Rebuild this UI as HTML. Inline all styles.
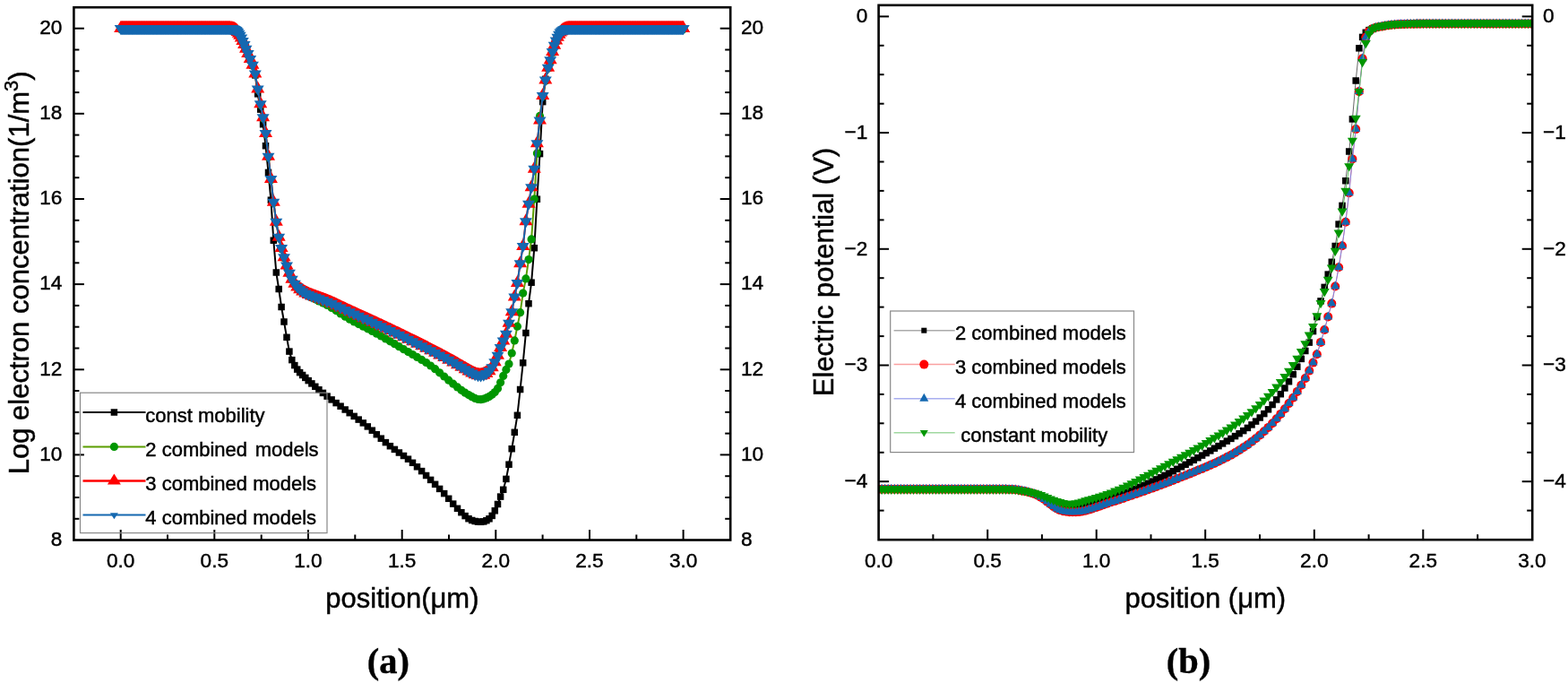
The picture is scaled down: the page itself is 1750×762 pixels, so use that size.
<!DOCTYPE html>
<html><head><meta charset="utf-8"><title>Figure</title>
<style>html,body{margin:0;padding:0;background:#fff;} svg{display:block;}</style>
</head><body>
<svg width="1750" height="762" viewBox="0 0 1750 762">
<defs>
<marker id="lsq" markerUnits="userSpaceOnUse" markerWidth="10" markerHeight="10" refX="5" refY="5" overflow="visible"><rect x="1.25" y="1.25" width="7.5" height="7.5" fill="#000"/></marker>
<marker id="lci" markerUnits="userSpaceOnUse" markerWidth="10" markerHeight="10" refX="5" refY="5" overflow="visible"><circle cx="5" cy="5" r="4.6" fill="#009600"/></marker>
<marker id="ltu" markerUnits="userSpaceOnUse" markerWidth="16" markerHeight="14" refX="7.5" refY="8.67" overflow="visible"><path d="M7.5 0 L15 13 L0 13 Z" fill="#ff0000"/></marker>
<marker id="ltd" markerUnits="userSpaceOnUse" markerWidth="14" markerHeight="11" refX="7" refY="3.67" overflow="visible"><path d="M0 0 L14 0 L7 11 Z" fill="#1468b0"/></marker>
<marker id="rsq" markerUnits="userSpaceOnUse" markerWidth="8" markerHeight="8" refX="4" refY="4" overflow="visible"><rect x="0.25" y="0.25" width="7.5" height="7.5" fill="#000"/></marker>
<marker id="rci" markerUnits="userSpaceOnUse" markerWidth="12" markerHeight="12" refX="5" refY="5" overflow="visible"><circle cx="5" cy="5" r="5" fill="#ff0000"/></marker>
<marker id="rtu" markerUnits="userSpaceOnUse" markerWidth="12" markerHeight="10" refX="5" refY="6" overflow="visible"><path d="M5 0 L10 9 L0 9 Z" fill="#1468b0"/></marker>
<marker id="rtd" markerUnits="userSpaceOnUse" markerWidth="11" markerHeight="10" refX="5.5" refY="3.1" overflow="visible"><path d="M0 0 L11 0 L5.5 9.3 Z" fill="#009600"/></marker>
<marker id="lgtd" markerUnits="userSpaceOnUse" markerWidth="10" markerHeight="8" refX="4.5" refY="2.3" overflow="visible"><path d="M0 0 L9 0 L4.5 7 Z" fill="#1468b0"/></marker>
<marker id="lgtu" markerUnits="userSpaceOnUse" markerWidth="16" markerHeight="14" refX="7.5" refY="8" overflow="visible"><path d="M7.5 0 L15 12 L0 12 Z" fill="#ff0000"/></marker>
<marker id="lgrsq" markerUnits="userSpaceOnUse" markerWidth="8" markerHeight="8" refX="3" refY="3" overflow="visible"><rect x="0" y="0" width="6" height="6" fill="#000"/></marker>
<marker id="lgrtd" markerUnits="userSpaceOnUse" markerWidth="10" markerHeight="8" refX="4.5" refY="2.6" overflow="visible"><path d="M0 0 L9 0 L4.5 7.5 Z" fill="#009600"/></marker>
<clipPath id="rclip"><rect x="981.5" y="6" width="728" height="595"/></clipPath>
</defs>
<rect width="1750" height="762" fill="#fff"/>

<polyline points="134.7,31.7 135.3,31.7 136.0,31.7 136.6,31.7 137.2,31.7 137.8,31.7 138.5,31.7 139.1,31.7 139.7,31.7 140.4,31.7 141.0,31.7 141.6,31.7 142.2,31.7 142.9,31.7 143.5,31.7 144.1,31.7 144.7,31.7 145.4,31.7 146.0,31.7 146.6,31.7 147.3,31.7 147.9,31.7 148.5,31.7 149.1,31.7 149.8,31.7 150.4,31.7 151.0,31.7 151.7,31.7 152.3,31.7 152.9,31.7 153.5,31.7 154.2,31.7 154.8,31.7 155.4,31.7 156.0,31.7 156.7,31.7 157.3,31.7 157.9,31.7 158.6,31.7 159.2,31.7 159.8,31.7 160.4,31.7 161.1,31.7 161.7,31.7 162.3,31.7 163.0,31.7 163.6,31.7 164.2,31.7 164.8,31.7 165.5,31.7 166.1,31.7 166.7,31.7 167.4,31.7 168.0,31.7 168.6,31.7 169.2,31.7 169.9,31.7 170.5,31.7 171.1,31.7 171.7,31.7 172.4,31.7 173.0,31.7 173.6,31.7 174.3,31.7 174.9,31.7 175.5,31.7 176.1,31.7 176.8,31.7 177.4,31.7 178.0,31.7 178.7,31.7 179.3,31.7 179.9,31.7 180.5,31.7 181.2,31.7 181.8,31.7 182.4,31.7 183.0,31.7 183.7,31.7 184.3,31.7 184.9,31.7 185.6,31.7 186.2,31.7 186.8,31.7 187.4,31.7 188.1,31.7 188.7,31.7 189.3,31.7 190.0,31.7 190.6,31.7 191.2,31.7 191.8,31.7 192.5,31.7 193.1,31.7 193.7,31.7 194.4,31.7 195.0,31.7 195.6,31.7 196.2,31.7 196.9,31.7 197.5,31.7 198.1,31.7 198.7,31.7 199.4,31.7 200.0,31.7 200.6,31.7 201.3,31.7 201.9,31.7 202.5,31.7 203.1,31.7 203.8,31.7 204.4,31.7 205.0,31.7 205.7,31.7 206.3,31.7 206.9,31.7 207.5,31.7 208.2,31.7 208.8,31.7 209.4,31.7 210.0,31.7 210.7,31.7 211.3,31.7 211.9,31.7 212.6,31.7 213.2,31.7 213.8,31.7 214.4,31.7 215.1,31.7 215.7,31.7 216.3,31.7 217.0,31.7 217.6,31.7 218.2,31.7 218.8,31.7 219.5,31.7 220.1,31.7 220.7,31.7 221.4,31.7 222.0,31.7 222.6,31.7 223.2,31.7 223.9,31.7 224.5,31.7 225.1,31.7 225.7,31.7 226.4,31.7 227.0,31.7 227.6,31.7 228.3,31.7 228.9,31.7 229.5,31.7 230.1,31.7 230.8,31.7 231.4,31.7 232.0,31.7 232.7,31.7 233.3,31.7 233.9,31.7 234.5,31.7 235.2,31.7 235.8,31.7 236.4,31.7 237.0,31.7 237.7,31.7 238.3,31.7 238.9,31.7 239.6,31.7 240.2,31.7 240.8,31.7 241.4,31.7 242.1,31.7 242.7,31.7 243.3,31.7 244.0,31.7 244.6,31.7 245.2,31.7 245.8,31.7 246.5,31.7 247.1,31.7 247.7,31.7 248.3,31.7 249.0,31.7 249.6,31.7 250.2,31.7 250.9,31.7 251.5,31.7 252.1,31.7 252.7,31.7 253.4,31.7 254.0,31.7 254.6,31.8 255.3,31.8 255.9,31.9 256.5,31.9 257.1,32.0 257.8,32.1 258.4,32.2 259.0,32.3 259.7,32.5 260.3,32.7 260.9,32.9 261.6,33.2 262.4,33.6 263.2,34.3 264.2,35.2 265.2,36.5 266.4,38.2 267.7,40.4 269.2,43.2 270.8,46.7 272.6,50.7 274.5,55.3 276.7,60.6 279.2,66.6 281.9,73.2 284.8,83.9 287.7,104.8 290.7,122.1 293.6,138.7 296.5,162.7 299.5,192.4 302.4,223.2 305.3,268.2 308.3,304.0 311.2,322.5 314.1,342.5 317.0,359.0 320.0,376.3 322.9,392.1 325.8,401.6 328.8,407.6 331.7,412.1 334.6,415.6 337.6,418.5 340.8,421.4 344.2,424.6 347.9,427.9 351.8,431.3 355.9,434.8 360.4,438.4 365.1,442.1 370.1,445.9 375.1,449.6 380.1,453.2 385.2,457.0 390.2,460.7 395.2,464.4 400.2,468.1 405.3,471.9 410.3,475.9 415.3,480.2 420.3,484.7 425.3,489.2 430.4,493.6 435.4,497.7 440.4,501.4 445.4,505.0 450.5,508.5 455.5,512.2 460.5,516.3 465.5,520.8 470.6,525.6 475.6,530.5 480.6,535.4 485.6,540.3 490.6,545.4 495.7,550.6 500.7,556.3 505.7,562.1 510.5,567.3 514.9,571.7 519.1,575.6 523.0,578.7 526.7,580.5 530.2,581.5 533.5,582.1 536.6,582.3 539.8,581.9 542.9,580.7 546.0,578.8 549.2,575.4 552.3,569.8 555.5,562.5 558.6,554.1 561.7,546.3 564.9,534.4 568.0,518.2 571.2,500.7 574.3,482.3 577.4,463.3 580.6,434.5 583.7,404.8 586.9,371.5 590.0,338.7 593.1,315.2 596.3,276.7 599.4,222.2 602.5,171.6 605.7,113.6 608.8,88.3 611.7,76.1 614.2,67.9 616.6,58.6 618.7,51.5 620.7,46.2 622.4,42.2 624.0,39.1 625.4,36.9 626.7,35.3 627.9,34.3 629.0,33.5 630.0,33.0 630.9,32.6 631.7,32.3 632.4,32.1 633.1,32.0 633.7,31.9 634.3,31.8 635.0,31.8 635.6,31.7 636.2,31.7 636.9,31.7 637.5,31.7 638.1,31.7 638.7,31.7 639.4,31.7 640.0,31.7 640.6,31.7 641.3,31.7 641.9,31.7 642.5,31.7 643.1,31.7 643.8,31.7 644.4,31.7 645.0,31.7 645.7,31.7 646.3,31.7 646.9,31.7 647.5,31.7 648.2,31.7 648.8,31.7 649.4,31.7 650.0,31.7 650.7,31.7 651.3,31.7 651.9,31.7 652.6,31.7 653.2,31.7 653.8,31.7 654.4,31.7 655.1,31.7 655.7,31.7 656.3,31.7 657.0,31.7 657.6,31.7 658.2,31.7 658.8,31.7 659.5,31.7 660.1,31.7 660.7,31.7 661.3,31.7 662.0,31.7 662.6,31.7 663.2,31.7 663.9,31.7 664.5,31.7 665.1,31.7 665.7,31.7 666.4,31.7 667.0,31.7 667.6,31.7 668.3,31.7 668.9,31.7 669.5,31.7 670.1,31.7 670.8,31.7 671.4,31.7 672.0,31.7 672.7,31.7 673.3,31.7 673.9,31.7 674.5,31.7 675.2,31.7 675.8,31.7 676.4,31.7 677.0,31.7 677.7,31.7 678.3,31.7 678.9,31.7 679.6,31.7 680.2,31.7 680.8,31.7 681.4,31.7 682.1,31.7 682.7,31.7 683.3,31.7 684.0,31.7 684.6,31.7 685.2,31.7 685.8,31.7 686.5,31.7 687.1,31.7 687.7,31.7 688.3,31.7 689.0,31.7 689.6,31.7 690.2,31.7 690.9,31.7 691.5,31.7 692.1,31.7 692.7,31.7 693.4,31.7 694.0,31.7 694.6,31.7 695.3,31.7 695.9,31.7 696.5,31.7 697.1,31.7 697.8,31.7 698.4,31.7 699.0,31.7 699.7,31.7 700.3,31.7 700.9,31.7 701.5,31.7 702.2,31.7 702.8,31.7 703.4,31.7 704.0,31.7 704.7,31.7 705.3,31.7 705.9,31.7 706.6,31.7 707.2,31.7 707.8,31.7 708.4,31.7 709.1,31.7 709.7,31.7 710.3,31.7 711.0,31.7 711.6,31.7 712.2,31.7 712.8,31.7 713.5,31.7 714.1,31.7 714.7,31.7 715.3,31.7 716.0,31.7 716.6,31.7 717.2,31.7 717.9,31.7 718.5,31.7 719.1,31.7 719.7,31.7 720.4,31.7 721.0,31.7 721.6,31.7 722.3,31.7 722.9,31.7 723.5,31.7 724.1,31.7 724.8,31.7 725.4,31.7 726.0,31.7 726.7,31.7 727.3,31.7 727.9,31.7 728.5,31.7 729.2,31.7 729.8,31.7 730.4,31.7 731.0,31.7 731.7,31.7 732.3,31.7 732.9,31.7 733.6,31.7 734.2,31.7 734.8,31.7 735.4,31.7 736.1,31.7 736.7,31.7 737.3,31.7 738.0,31.7 738.6,31.7 739.2,31.7 739.8,31.7 740.5,31.7 741.1,31.7 741.7,31.7 742.3,31.7 743.0,31.7 743.6,31.7 744.2,31.7 744.9,31.7 745.5,31.7 746.1,31.7 746.7,31.7 747.4,31.7 748.0,31.7 748.6,31.7 749.3,31.7 749.9,31.7 750.5,31.7 751.1,31.7 751.8,31.7 752.4,31.7 753.0,31.7 753.7,31.7 754.3,31.7 754.9,31.7 755.5,31.7 756.2,31.7 756.8,31.7 757.4,31.7 758.0,31.7 758.7,31.7 759.3,31.7 759.9,31.7 760.6,31.7 761.2,31.7 761.8,31.7 762.4,31.7 762.6,31.7" fill="none" stroke="#000" stroke-width="2" stroke-linejoin="round" marker-start="url(#lsq)" marker-mid="url(#lsq)" marker-end="url(#lsq)"/>
<polyline points="134.7,32.6 135.3,32.6 136.0,32.6 136.6,32.6 137.2,32.6 137.8,32.6 138.5,32.6 139.1,32.6 139.7,32.6 140.4,32.6 141.0,32.6 141.6,32.6 142.2,32.6 142.9,32.6 143.5,32.6 144.1,32.6 144.7,32.6 145.4,32.6 146.0,32.6 146.6,32.6 147.3,32.6 147.9,32.6 148.5,32.6 149.1,32.6 149.8,32.6 150.4,32.6 151.0,32.6 151.7,32.6 152.3,32.6 152.9,32.6 153.5,32.6 154.2,32.6 154.8,32.6 155.4,32.6 156.0,32.6 156.7,32.6 157.3,32.6 157.9,32.6 158.6,32.6 159.2,32.6 159.8,32.6 160.4,32.6 161.1,32.6 161.7,32.6 162.3,32.6 163.0,32.6 163.6,32.6 164.2,32.6 164.8,32.6 165.5,32.6 166.1,32.6 166.7,32.6 167.4,32.6 168.0,32.6 168.6,32.6 169.2,32.6 169.9,32.6 170.5,32.6 171.1,32.6 171.7,32.6 172.4,32.6 173.0,32.6 173.6,32.6 174.3,32.6 174.9,32.6 175.5,32.6 176.1,32.6 176.8,32.6 177.4,32.6 178.0,32.6 178.7,32.6 179.3,32.6 179.9,32.6 180.5,32.6 181.2,32.6 181.8,32.6 182.4,32.6 183.0,32.6 183.7,32.6 184.3,32.6 184.9,32.6 185.6,32.6 186.2,32.6 186.8,32.6 187.4,32.6 188.1,32.6 188.7,32.6 189.3,32.6 190.0,32.6 190.6,32.6 191.2,32.6 191.8,32.6 192.5,32.6 193.1,32.6 193.7,32.6 194.4,32.6 195.0,32.6 195.6,32.6 196.2,32.6 196.9,32.6 197.5,32.6 198.1,32.6 198.7,32.6 199.4,32.6 200.0,32.6 200.6,32.6 201.3,32.6 201.9,32.6 202.5,32.6 203.1,32.6 203.8,32.6 204.4,32.6 205.0,32.6 205.7,32.6 206.3,32.6 206.9,32.6 207.5,32.6 208.2,32.6 208.8,32.6 209.4,32.6 210.0,32.6 210.7,32.6 211.3,32.6 211.9,32.6 212.6,32.6 213.2,32.6 213.8,32.6 214.4,32.6 215.1,32.6 215.7,32.6 216.3,32.6 217.0,32.6 217.6,32.6 218.2,32.6 218.8,32.6 219.5,32.6 220.1,32.6 220.7,32.6 221.4,32.6 222.0,32.6 222.6,32.6 223.2,32.6 223.9,32.6 224.5,32.6 225.1,32.6 225.7,32.6 226.4,32.6 227.0,32.6 227.6,32.6 228.3,32.6 228.9,32.6 229.5,32.6 230.1,32.6 230.8,32.6 231.4,32.6 232.0,32.6 232.7,32.6 233.3,32.6 233.9,32.6 234.5,32.6 235.2,32.6 235.8,32.6 236.4,32.6 237.0,32.6 237.7,32.6 238.3,32.6 238.9,32.6 239.6,32.6 240.2,32.6 240.8,32.6 241.4,32.6 242.1,32.6 242.7,32.6 243.3,32.6 244.0,32.6 244.6,32.6 245.2,32.6 245.8,32.6 246.5,32.6 247.1,32.6 247.7,32.6 248.3,32.6 249.0,32.6 249.6,32.6 250.2,32.6 250.9,32.6 251.5,32.6 252.1,32.6 252.7,32.6 253.4,32.6 254.0,32.6 254.6,32.6 255.3,32.7 255.9,32.7 256.5,32.7 257.1,32.8 257.8,32.9 258.4,32.9 259.0,33.0 259.7,33.2 260.3,33.3 260.9,33.5 261.6,33.7 262.4,34.1 263.2,34.7 264.2,35.5 265.2,36.7 266.4,38.3 267.7,40.4 269.2,43.1 270.8,46.7 272.6,50.7 274.5,55.3 276.7,60.6 279.2,66.6 281.9,73.3 284.8,83.1 287.7,100.1 290.7,117.0 293.6,131.9 296.5,149.7 299.5,175.4 302.4,200.7 305.3,226.4 308.3,248.3 311.2,265.3 314.1,277.7 317.0,287.8 320.0,297.2 322.9,305.4 325.8,312.3 328.8,317.5 331.7,321.1 334.6,323.9 337.6,326.2 340.8,328.3 344.2,330.1 347.9,331.9 351.8,333.8 355.9,335.9 360.4,338.1 365.1,340.5 370.1,343.4 375.1,346.6 380.1,349.9 385.2,353.2 390.2,356.2 395.2,359.0 400.2,361.6 405.3,364.2 410.3,366.8 415.3,369.5 420.3,372.2 425.3,375.0 430.4,377.9 435.4,380.8 440.4,383.7 445.4,386.7 450.5,389.7 455.5,392.6 460.5,395.5 465.5,398.4 470.6,401.4 475.6,404.5 480.6,408.0 485.6,411.7 490.6,415.8 495.7,420.0 500.7,424.2 505.7,428.2 510.5,431.9 514.9,435.3 519.1,438.2 523.0,440.6 526.7,442.7 530.2,444.4 533.5,445.5 536.6,445.7 539.8,445.1 542.9,443.9 546.0,442.4 549.2,440.3 552.3,437.6 555.5,433.4 558.6,426.8 561.7,419.4 564.9,412.4 568.0,406.0 571.2,394.0 574.3,379.9 577.4,364.2 580.6,348.7 583.7,327.1 586.9,310.9 590.0,289.6 593.1,266.9 596.3,222.0 599.4,171.1 602.5,129.4 605.7,107.5 608.8,90.2 611.7,76.3 614.2,67.9 616.6,58.6 618.7,51.4 620.7,46.2 622.4,42.3 624.0,39.3 625.4,37.2 626.7,35.8 627.9,34.8 629.0,34.2 630.0,33.7 630.9,33.3 631.7,33.1 632.4,32.9 633.1,32.8 633.7,32.7 634.3,32.7 635.0,32.7 635.6,32.6 636.2,32.6 636.9,32.6 637.5,32.6 638.1,32.6 638.7,32.6 639.4,32.6 640.0,32.6 640.6,32.6 641.3,32.6 641.9,32.6 642.5,32.6 643.1,32.6 643.8,32.6 644.4,32.6 645.0,32.6 645.7,32.6 646.3,32.6 646.9,32.6 647.5,32.6 648.2,32.6 648.8,32.6 649.4,32.6 650.0,32.6 650.7,32.6 651.3,32.6 651.9,32.6 652.6,32.6 653.2,32.6 653.8,32.6 654.4,32.6 655.1,32.6 655.7,32.6 656.3,32.6 657.0,32.6 657.6,32.6 658.2,32.6 658.8,32.6 659.5,32.6 660.1,32.6 660.7,32.6 661.3,32.6 662.0,32.6 662.6,32.6 663.2,32.6 663.9,32.6 664.5,32.6 665.1,32.6 665.7,32.6 666.4,32.6 667.0,32.6 667.6,32.6 668.3,32.6 668.9,32.6 669.5,32.6 670.1,32.6 670.8,32.6 671.4,32.6 672.0,32.6 672.7,32.6 673.3,32.6 673.9,32.6 674.5,32.6 675.2,32.6 675.8,32.6 676.4,32.6 677.0,32.6 677.7,32.6 678.3,32.6 678.9,32.6 679.6,32.6 680.2,32.6 680.8,32.6 681.4,32.6 682.1,32.6 682.7,32.6 683.3,32.6 684.0,32.6 684.6,32.6 685.2,32.6 685.8,32.6 686.5,32.6 687.1,32.6 687.7,32.6 688.3,32.6 689.0,32.6 689.6,32.6 690.2,32.6 690.9,32.6 691.5,32.6 692.1,32.6 692.7,32.6 693.4,32.6 694.0,32.6 694.6,32.6 695.3,32.6 695.9,32.6 696.5,32.6 697.1,32.6 697.8,32.6 698.4,32.6 699.0,32.6 699.7,32.6 700.3,32.6 700.9,32.6 701.5,32.6 702.2,32.6 702.8,32.6 703.4,32.6 704.0,32.6 704.7,32.6 705.3,32.6 705.9,32.6 706.6,32.6 707.2,32.6 707.8,32.6 708.4,32.6 709.1,32.6 709.7,32.6 710.3,32.6 711.0,32.6 711.6,32.6 712.2,32.6 712.8,32.6 713.5,32.6 714.1,32.6 714.7,32.6 715.3,32.6 716.0,32.6 716.6,32.6 717.2,32.6 717.9,32.6 718.5,32.6 719.1,32.6 719.7,32.6 720.4,32.6 721.0,32.6 721.6,32.6 722.3,32.6 722.9,32.6 723.5,32.6 724.1,32.6 724.8,32.6 725.4,32.6 726.0,32.6 726.7,32.6 727.3,32.6 727.9,32.6 728.5,32.6 729.2,32.6 729.8,32.6 730.4,32.6 731.0,32.6 731.7,32.6 732.3,32.6 732.9,32.6 733.6,32.6 734.2,32.6 734.8,32.6 735.4,32.6 736.1,32.6 736.7,32.6 737.3,32.6 738.0,32.6 738.6,32.6 739.2,32.6 739.8,32.6 740.5,32.6 741.1,32.6 741.7,32.6 742.3,32.6 743.0,32.6 743.6,32.6 744.2,32.6 744.9,32.6 745.5,32.6 746.1,32.6 746.7,32.6 747.4,32.6 748.0,32.6 748.6,32.6 749.3,32.6 749.9,32.6 750.5,32.6 751.1,32.6 751.8,32.6 752.4,32.6 753.0,32.6 753.7,32.6 754.3,32.6 754.9,32.6 755.5,32.6 756.2,32.6 756.8,32.6 757.4,32.6 758.0,32.6 758.7,32.6 759.3,32.6 759.9,32.6 760.6,32.6 761.2,32.6 761.8,32.6 762.4,32.6 762.6,32.6" fill="none" stroke="#5a9e00" stroke-width="2" stroke-linejoin="round" marker-start="url(#lci)" marker-mid="url(#lci)" marker-end="url(#lci)"/>
<polyline points="335.0,316.5 336.0,317.3 337.0,318.0 338.0,318.7 339.0,319.3 340.0,319.9 341.0,320.4 342.0,320.9 343.0,321.4 344.0,321.8 345.0,322.3 346.0,322.7 347.0,323.1 348.0,323.5 349.0,323.9 350.0,324.2 351.0,324.6 352.0,325.0 353.0,325.4 354.0,325.7 355.0,326.1 356.0,326.5 357.0,326.8 358.0,327.2 359.0,327.5 360.0,327.9 361.0,328.3 362.0,328.6 363.0,329.0 364.0,329.4 365.0,329.8 366.0,330.2 367.0,330.6 368.0,331.0 369.0,331.4 370.0,331.9 371.0,332.3 372.0,332.7 373.0,333.2 374.0,333.7 375.0,334.1 376.0,334.6 377.0,335.1 378.0,335.5 379.0,336.0 380.0,336.5 381.0,337.0 382.0,337.5 383.0,337.9 384.0,338.4 385.0,338.9 386.0,339.4 387.0,339.8 388.0,340.3 389.0,340.8 390.0,341.2 391.0,341.7 392.0,342.2 393.0,342.6 394.0,343.1 395.0,343.5 396.0,344.0 397.0,344.4 398.0,344.9 399.0,345.4 400.0,345.8 401.0,346.3 402.0,346.7 403.0,347.2 404.0,347.6 405.0,348.1 406.0,348.5 407.0,349.0 408.0,349.4 409.0,349.9 410.0,350.3 411.0,350.8 412.0,351.2 413.0,351.7 414.0,352.1 415.0,352.6 416.0,353.1 417.0,353.5 418.0,354.0 419.0,354.4 420.0,354.9 421.0,355.4 422.0,355.8 423.0,356.3 424.0,356.8 425.0,357.2 426.0,357.7 427.0,358.2 428.0,358.6 429.0,359.1 430.0,359.6 431.0,360.0 432.0,360.5 433.0,361.0 434.0,361.5 435.0,361.9 436.0,362.4 437.0,362.9 438.0,363.4 439.0,363.8 440.0,364.3 441.0,364.8 442.0,365.3 443.0,365.7 444.0,366.2 445.0,366.7 446.0,367.2 447.0,367.7 448.0,368.1 449.0,368.6 450.0,369.1 451.0,369.6 452.0,370.1 453.0,370.6 454.0,371.0 455.0,371.5 456.0,372.0 457.0,372.5 458.0,373.0 459.0,373.5 460.0,374.0 461.0,374.5 462.0,374.9 463.0,375.4 464.0,375.9 465.0,376.4 466.0,376.9 467.0,377.4 468.0,377.9 469.0,378.4 470.0,378.9 471.0,379.4 472.0,379.9 473.0,380.4 474.0,380.9 475.0,381.4 476.0,381.9 477.0,382.4 478.0,383.0 479.0,383.5 480.0,384.0 481.0,384.5 482.0,385.0 483.0,385.5 484.0,386.0 485.0,386.6 486.0,387.1 487.0,387.6 488.0,388.1 489.0,388.6 490.0,389.2 491.0,389.7 492.0,390.2 493.0,390.7 494.0,391.3 495.0,391.8 496.0,392.3 497.0,392.9 498.0,393.4 499.0,393.9 500.0,394.5 501.0,395.0 502.0,395.6 503.0,396.1 504.0,396.6 505.0,397.2 506.0,397.7 507.0,398.3 508.0,398.9 509.0,399.4 510.0,400.0 511.0,400.6 512.0,401.2 513.0,401.8 514.0,402.3 515.0,402.9 516.0,403.5 517.0,404.1 518.0,404.7 519.0,405.2 520.0,405.8 521.0,406.4 522.0,406.9 523.0,407.5 524.0,408.0 525.0,408.6 526.0,409.1 527.0,409.7 528.0,410.2 529.0,410.6 530.0,411.0 531.0,411.4 532.0,411.7 533.0,412.0 534.0,412.1 535.0,412.2 536.0,412.2 537.0,412.1 538.0,411.9 539.0,411.6 540.0,411.3 541.0,410.8 542.0,410.3 543.0,409.7 544.0,408.9 545.0,408.1" fill="none" stroke="#ff0000" stroke-width="3.6" stroke-linecap="round"/>
<polyline points="134.7,31.6 135.3,31.6 136.0,31.6 136.6,31.6 137.2,31.6 137.8,31.6 138.5,31.6 139.1,31.6 139.7,31.6 140.4,31.6 141.0,31.6 141.6,31.6 142.2,31.6 142.9,31.6 143.5,31.6 144.1,31.6 144.7,31.6 145.4,31.6 146.0,31.6 146.6,31.6 147.3,31.6 147.9,31.6 148.5,31.6 149.1,31.6 149.8,31.6 150.4,31.6 151.0,31.6 151.7,31.6 152.3,31.6 152.9,31.6 153.5,31.6 154.2,31.6 154.8,31.6 155.4,31.6 156.0,31.6 156.7,31.6 157.3,31.6 157.9,31.6 158.6,31.6 159.2,31.6 159.8,31.6 160.4,31.6 161.1,31.6 161.7,31.6 162.3,31.6 163.0,31.6 163.6,31.6 164.2,31.6 164.8,31.6 165.5,31.6 166.1,31.6 166.7,31.6 167.4,31.6 168.0,31.6 168.6,31.6 169.2,31.6 169.9,31.6 170.5,31.6 171.1,31.6 171.7,31.6 172.4,31.6 173.0,31.6 173.6,31.6 174.3,31.6 174.9,31.6 175.5,31.6 176.1,31.6 176.8,31.6 177.4,31.6 178.0,31.6 178.7,31.6 179.3,31.6 179.9,31.6 180.5,31.6 181.2,31.6 181.8,31.6 182.4,31.6 183.0,31.6 183.7,31.6 184.3,31.6 184.9,31.6 185.6,31.6 186.2,31.6 186.8,31.6 187.4,31.6 188.1,31.6 188.7,31.6 189.3,31.6 190.0,31.6 190.6,31.6 191.2,31.6 191.8,31.6 192.5,31.6 193.1,31.6 193.7,31.6 194.4,31.6 195.0,31.6 195.6,31.6 196.2,31.6 196.9,31.6 197.5,31.6 198.1,31.6 198.7,31.6 199.4,31.6 200.0,31.6 200.6,31.6 201.3,31.6 201.9,31.6 202.5,31.6 203.1,31.6 203.8,31.6 204.4,31.6 205.0,31.6 205.7,31.6 206.3,31.6 206.9,31.6 207.5,31.6 208.2,31.6 208.8,31.6 209.4,31.6 210.0,31.6 210.7,31.6 211.3,31.6 211.9,31.6 212.6,31.6 213.2,31.6 213.8,31.6 214.4,31.6 215.1,31.6 215.7,31.6 216.3,31.6 217.0,31.6 217.6,31.6 218.2,31.6 218.8,31.6 219.5,31.6 220.1,31.6 220.7,31.6 221.4,31.6 222.0,31.6 222.6,31.6 223.2,31.6 223.9,31.6 224.5,31.6 225.1,31.6 225.7,31.6 226.4,31.6 227.0,31.6 227.6,31.6 228.3,31.6 228.9,31.6 229.5,31.6 230.1,31.6 230.8,31.6 231.4,31.6 232.0,31.6 232.7,31.6 233.3,31.6 233.9,31.6 234.5,31.6 235.2,31.6 235.8,31.6 236.4,31.6 237.0,31.6 237.7,31.6 238.3,31.6 238.9,31.6 239.6,31.6 240.2,31.6 240.8,31.6 241.4,31.6 242.1,31.6 242.7,31.6 243.3,31.6 244.0,31.6 244.6,31.6 245.2,31.6 245.8,31.6 246.5,31.6 247.1,31.6 247.7,31.6 248.3,31.6 249.0,31.6 249.6,31.6 250.2,31.6 250.9,31.6 251.5,31.6 252.1,31.6 252.7,31.6 253.4,31.6 254.0,31.6 254.6,31.6 255.3,31.7 255.9,31.7 256.5,31.7 257.1,31.8 257.8,31.9 258.4,31.9 259.0,32.0 259.7,32.2 260.3,32.3 260.9,32.5 261.6,32.7 262.4,33.1 263.2,33.7 264.2,34.5 265.2,35.7 266.4,37.3 267.7,39.4 269.2,42.1 270.8,45.7 272.6,49.7 274.5,54.3 276.7,59.6 279.2,65.6 281.9,72.3 284.8,82.1 287.7,99.1 290.7,116.0 293.6,130.9 296.5,148.7 299.5,174.4 302.4,199.7 305.3,225.4 308.3,247.3 311.2,264.3 314.1,276.7 317.0,286.8 320.0,296.2 322.9,304.4 325.8,311.3 328.8,316.5 331.7,320.2 334.6,323.0 337.6,325.2 340.8,327.1 344.2,328.6 347.9,330.1 351.8,331.5 355.9,333.0 360.4,334.6 365.1,336.4 370.1,338.5 375.1,340.8 380.1,343.2 385.2,345.6 390.2,347.9 395.2,350.2 400.2,352.5 405.3,354.8 410.3,357.0 415.3,359.3 420.3,361.7 425.3,364.0 430.4,366.3 435.4,368.7 440.4,371.1 445.4,373.5 450.5,375.9 455.5,378.4 460.5,380.8 465.5,383.3 470.6,385.8 475.6,388.3 480.6,390.9 485.6,393.5 490.6,396.1 495.7,398.7 500.7,401.4 505.7,404.2 510.5,406.9 514.9,409.5 519.1,411.9 523.0,414.1 526.7,416.2 530.2,418.0 533.5,419.0 536.6,419.1 539.8,418.3 542.9,416.7 546.0,413.9 549.2,409.8 552.3,404.0 555.5,396.5 558.6,387.7 561.7,380.1 564.9,372.4 568.0,360.3 571.2,347.8 574.3,331.2 577.4,315.7 580.6,293.8 583.7,274.6 586.9,247.0 590.0,227.5 593.1,209.0 596.3,188.3 599.4,159.9 602.5,134.1 605.7,106.6 608.8,89.2 611.7,75.3 614.2,66.9 616.6,57.6 618.7,50.4 620.7,45.2 622.4,41.3 624.0,38.3 625.4,36.2 626.7,34.8 627.9,33.8 629.0,33.2 630.0,32.7 630.9,32.3 631.7,32.1 632.4,31.9 633.1,31.8 633.7,31.8 634.3,31.7 635.0,31.7 635.6,31.6 636.2,31.6 636.9,31.6 637.5,31.6 638.1,31.6 638.7,31.6 639.4,31.6 640.0,31.6 640.6,31.6 641.3,31.6 641.9,31.6 642.5,31.6 643.1,31.6 643.8,31.6 644.4,31.6 645.0,31.6 645.7,31.6 646.3,31.6 646.9,31.6 647.5,31.6 648.2,31.6 648.8,31.6 649.4,31.6 650.0,31.6 650.7,31.6 651.3,31.6 651.9,31.6 652.6,31.6 653.2,31.6 653.8,31.6 654.4,31.6 655.1,31.6 655.7,31.6 656.3,31.6 657.0,31.6 657.6,31.6 658.2,31.6 658.8,31.6 659.5,31.6 660.1,31.6 660.7,31.6 661.3,31.6 662.0,31.6 662.6,31.6 663.2,31.6 663.9,31.6 664.5,31.6 665.1,31.6 665.7,31.6 666.4,31.6 667.0,31.6 667.6,31.6 668.3,31.6 668.9,31.6 669.5,31.6 670.1,31.6 670.8,31.6 671.4,31.6 672.0,31.6 672.7,31.6 673.3,31.6 673.9,31.6 674.5,31.6 675.2,31.6 675.8,31.6 676.4,31.6 677.0,31.6 677.7,31.6 678.3,31.6 678.9,31.6 679.6,31.6 680.2,31.6 680.8,31.6 681.4,31.6 682.1,31.6 682.7,31.6 683.3,31.6 684.0,31.6 684.6,31.6 685.2,31.6 685.8,31.6 686.5,31.6 687.1,31.6 687.7,31.6 688.3,31.6 689.0,31.6 689.6,31.6 690.2,31.6 690.9,31.6 691.5,31.6 692.1,31.6 692.7,31.6 693.4,31.6 694.0,31.6 694.6,31.6 695.3,31.6 695.9,31.6 696.5,31.6 697.1,31.6 697.8,31.6 698.4,31.6 699.0,31.6 699.7,31.6 700.3,31.6 700.9,31.6 701.5,31.6 702.2,31.6 702.8,31.6 703.4,31.6 704.0,31.6 704.7,31.6 705.3,31.6 705.9,31.6 706.6,31.6 707.2,31.6 707.8,31.6 708.4,31.6 709.1,31.6 709.7,31.6 710.3,31.6 711.0,31.6 711.6,31.6 712.2,31.6 712.8,31.6 713.5,31.6 714.1,31.6 714.7,31.6 715.3,31.6 716.0,31.6 716.6,31.6 717.2,31.6 717.9,31.6 718.5,31.6 719.1,31.6 719.7,31.6 720.4,31.6 721.0,31.6 721.6,31.6 722.3,31.6 722.9,31.6 723.5,31.6 724.1,31.6 724.8,31.6 725.4,31.6 726.0,31.6 726.7,31.6 727.3,31.6 727.9,31.6 728.5,31.6 729.2,31.6 729.8,31.6 730.4,31.6 731.0,31.6 731.7,31.6 732.3,31.6 732.9,31.6 733.6,31.6 734.2,31.6 734.8,31.6 735.4,31.6 736.1,31.6 736.7,31.6 737.3,31.6 738.0,31.6 738.6,31.6 739.2,31.6 739.8,31.6 740.5,31.6 741.1,31.6 741.7,31.6 742.3,31.6 743.0,31.6 743.6,31.6 744.2,31.6 744.9,31.6 745.5,31.6 746.1,31.6 746.7,31.6 747.4,31.6 748.0,31.6 748.6,31.6 749.3,31.6 749.9,31.6 750.5,31.6 751.1,31.6 751.8,31.6 752.4,31.6 753.0,31.6 753.7,31.6 754.3,31.6 754.9,31.6 755.5,31.6 756.2,31.6 756.8,31.6 757.4,31.6 758.0,31.6 758.7,31.6 759.3,31.6 759.9,31.6 760.6,31.6 761.2,31.6 761.8,31.6 762.4,31.6 762.6,31.6" fill="none" stroke="#ff0000" stroke-width="2" stroke-linejoin="round" marker-start="url(#ltu)" marker-mid="url(#ltu)" marker-end="url(#ltu)"/>
<polyline points="134.7,31.6 135.3,31.6 136.0,31.6 136.6,31.6 137.2,31.6 137.8,31.6 138.5,31.6 139.1,31.6 139.7,31.6 140.4,31.6 141.0,31.6 141.6,31.6 142.2,31.6 142.9,31.6 143.5,31.6 144.1,31.6 144.7,31.6 145.4,31.6 146.0,31.6 146.6,31.6 147.3,31.6 147.9,31.6 148.5,31.6 149.1,31.6 149.8,31.6 150.4,31.6 151.0,31.6 151.7,31.6 152.3,31.6 152.9,31.6 153.5,31.6 154.2,31.6 154.8,31.6 155.4,31.6 156.0,31.6 156.7,31.6 157.3,31.6 157.9,31.6 158.6,31.6 159.2,31.6 159.8,31.6 160.4,31.6 161.1,31.6 161.7,31.6 162.3,31.6 163.0,31.6 163.6,31.6 164.2,31.6 164.8,31.6 165.5,31.6 166.1,31.6 166.7,31.6 167.4,31.6 168.0,31.6 168.6,31.6 169.2,31.6 169.9,31.6 170.5,31.6 171.1,31.6 171.7,31.6 172.4,31.6 173.0,31.6 173.6,31.6 174.3,31.6 174.9,31.6 175.5,31.6 176.1,31.6 176.8,31.6 177.4,31.6 178.0,31.6 178.7,31.6 179.3,31.6 179.9,31.6 180.5,31.6 181.2,31.6 181.8,31.6 182.4,31.6 183.0,31.6 183.7,31.6 184.3,31.6 184.9,31.6 185.6,31.6 186.2,31.6 186.8,31.6 187.4,31.6 188.1,31.6 188.7,31.6 189.3,31.6 190.0,31.6 190.6,31.6 191.2,31.6 191.8,31.6 192.5,31.6 193.1,31.6 193.7,31.6 194.4,31.6 195.0,31.6 195.6,31.6 196.2,31.6 196.9,31.6 197.5,31.6 198.1,31.6 198.7,31.6 199.4,31.6 200.0,31.6 200.6,31.6 201.3,31.6 201.9,31.6 202.5,31.6 203.1,31.6 203.8,31.6 204.4,31.6 205.0,31.6 205.7,31.6 206.3,31.6 206.9,31.6 207.5,31.6 208.2,31.6 208.8,31.6 209.4,31.6 210.0,31.6 210.7,31.6 211.3,31.6 211.9,31.6 212.6,31.6 213.2,31.6 213.8,31.6 214.4,31.6 215.1,31.6 215.7,31.6 216.3,31.6 217.0,31.6 217.6,31.6 218.2,31.6 218.8,31.6 219.5,31.6 220.1,31.6 220.7,31.6 221.4,31.6 222.0,31.6 222.6,31.6 223.2,31.6 223.9,31.6 224.5,31.6 225.1,31.6 225.7,31.6 226.4,31.6 227.0,31.6 227.6,31.6 228.3,31.6 228.9,31.6 229.5,31.6 230.1,31.6 230.8,31.6 231.4,31.6 232.0,31.6 232.7,31.6 233.3,31.6 233.9,31.6 234.5,31.6 235.2,31.6 235.8,31.6 236.4,31.6 237.0,31.6 237.7,31.6 238.3,31.6 238.9,31.6 239.6,31.6 240.2,31.6 240.8,31.6 241.4,31.6 242.1,31.6 242.7,31.6 243.3,31.6 244.0,31.6 244.6,31.6 245.2,31.6 245.8,31.6 246.5,31.6 247.1,31.6 247.7,31.6 248.3,31.6 249.0,31.6 249.6,31.6 250.2,31.6 250.9,31.6 251.5,31.6 252.1,31.6 252.7,31.6 253.4,31.6 254.0,31.6 254.6,31.6 255.3,31.7 255.9,31.7 256.5,31.7 257.1,31.8 257.8,31.9 258.4,31.9 259.0,32.0 259.7,32.2 260.3,32.3 260.9,32.5 261.6,32.7 262.4,33.1 263.2,33.7 264.2,34.5 265.2,35.7 266.4,37.3 267.7,39.4 269.2,42.1 270.8,45.7 272.6,49.7 274.5,54.3 276.7,59.6 279.2,65.6 281.9,72.3 284.8,82.1 287.7,99.1 290.7,116.0 293.6,130.9 296.5,148.7 299.5,174.4 302.4,199.7 305.3,225.4 308.3,247.3 311.2,264.3 314.1,276.7 317.0,286.8 320.0,296.2 322.9,304.4 325.8,311.3 328.8,316.5 331.7,320.2 334.6,323.0 337.6,325.2 340.8,327.1 344.2,328.6 347.9,330.1 351.8,331.5 355.9,333.0 360.4,334.6 365.1,336.4 370.1,338.5 375.1,340.8 380.1,343.2 385.2,345.6 390.2,347.9 395.2,350.2 400.2,352.5 405.3,354.8 410.3,357.0 415.3,359.3 420.3,361.7 425.3,364.0 430.4,366.3 435.4,368.7 440.4,371.1 445.4,373.5 450.5,375.9 455.5,378.4 460.5,380.8 465.5,383.3 470.6,385.8 475.6,388.3 480.6,390.9 485.6,393.5 490.6,396.1 495.7,398.7 500.7,401.4 505.7,404.2 510.5,406.9 514.9,409.5 519.1,411.9 523.0,414.1 526.7,416.2 530.2,418.0 533.5,419.0 536.6,419.1 539.8,418.3 542.9,416.7 546.0,413.9 549.2,409.8 552.3,404.0 555.5,396.5 558.6,387.7 561.7,380.1 564.9,372.4 568.0,360.3 571.2,347.8 574.3,331.2 577.4,315.7 580.6,293.8 583.7,274.6 586.9,247.0 590.0,227.5 593.1,209.0 596.3,188.3 599.4,159.9 602.5,134.1 605.7,106.6 608.8,89.2 611.7,75.3 614.2,66.9 616.6,57.6 618.7,50.4 620.7,45.2 622.4,41.3 624.0,38.3 625.4,36.2 626.7,34.8 627.9,33.8 629.0,33.2 630.0,32.7 630.9,32.3 631.7,32.1 632.4,31.9 633.1,31.8 633.7,31.8 634.3,31.7 635.0,31.7 635.6,31.6 636.2,31.6 636.9,31.6 637.5,31.6 638.1,31.6 638.7,31.6 639.4,31.6 640.0,31.6 640.6,31.6 641.3,31.6 641.9,31.6 642.5,31.6 643.1,31.6 643.8,31.6 644.4,31.6 645.0,31.6 645.7,31.6 646.3,31.6 646.9,31.6 647.5,31.6 648.2,31.6 648.8,31.6 649.4,31.6 650.0,31.6 650.7,31.6 651.3,31.6 651.9,31.6 652.6,31.6 653.2,31.6 653.8,31.6 654.4,31.6 655.1,31.6 655.7,31.6 656.3,31.6 657.0,31.6 657.6,31.6 658.2,31.6 658.8,31.6 659.5,31.6 660.1,31.6 660.7,31.6 661.3,31.6 662.0,31.6 662.6,31.6 663.2,31.6 663.9,31.6 664.5,31.6 665.1,31.6 665.7,31.6 666.4,31.6 667.0,31.6 667.6,31.6 668.3,31.6 668.9,31.6 669.5,31.6 670.1,31.6 670.8,31.6 671.4,31.6 672.0,31.6 672.7,31.6 673.3,31.6 673.9,31.6 674.5,31.6 675.2,31.6 675.8,31.6 676.4,31.6 677.0,31.6 677.7,31.6 678.3,31.6 678.9,31.6 679.6,31.6 680.2,31.6 680.8,31.6 681.4,31.6 682.1,31.6 682.7,31.6 683.3,31.6 684.0,31.6 684.6,31.6 685.2,31.6 685.8,31.6 686.5,31.6 687.1,31.6 687.7,31.6 688.3,31.6 689.0,31.6 689.6,31.6 690.2,31.6 690.9,31.6 691.5,31.6 692.1,31.6 692.7,31.6 693.4,31.6 694.0,31.6 694.6,31.6 695.3,31.6 695.9,31.6 696.5,31.6 697.1,31.6 697.8,31.6 698.4,31.6 699.0,31.6 699.7,31.6 700.3,31.6 700.9,31.6 701.5,31.6 702.2,31.6 702.8,31.6 703.4,31.6 704.0,31.6 704.7,31.6 705.3,31.6 705.9,31.6 706.6,31.6 707.2,31.6 707.8,31.6 708.4,31.6 709.1,31.6 709.7,31.6 710.3,31.6 711.0,31.6 711.6,31.6 712.2,31.6 712.8,31.6 713.5,31.6 714.1,31.6 714.7,31.6 715.3,31.6 716.0,31.6 716.6,31.6 717.2,31.6 717.9,31.6 718.5,31.6 719.1,31.6 719.7,31.6 720.4,31.6 721.0,31.6 721.6,31.6 722.3,31.6 722.9,31.6 723.5,31.6 724.1,31.6 724.8,31.6 725.4,31.6 726.0,31.6 726.7,31.6 727.3,31.6 727.9,31.6 728.5,31.6 729.2,31.6 729.8,31.6 730.4,31.6 731.0,31.6 731.7,31.6 732.3,31.6 732.9,31.6 733.6,31.6 734.2,31.6 734.8,31.6 735.4,31.6 736.1,31.6 736.7,31.6 737.3,31.6 738.0,31.6 738.6,31.6 739.2,31.6 739.8,31.6 740.5,31.6 741.1,31.6 741.7,31.6 742.3,31.6 743.0,31.6 743.6,31.6 744.2,31.6 744.9,31.6 745.5,31.6 746.1,31.6 746.7,31.6 747.4,31.6 748.0,31.6 748.6,31.6 749.3,31.6 749.9,31.6 750.5,31.6 751.1,31.6 751.8,31.6 752.4,31.6 753.0,31.6 753.7,31.6 754.3,31.6 754.9,31.6 755.5,31.6 756.2,31.6 756.8,31.6 757.4,31.6 758.0,31.6 758.7,31.6 759.3,31.6 759.9,31.6 760.6,31.6 761.2,31.6 761.8,31.6 762.4,31.6 762.6,31.6" fill="none" stroke="#1468b0" stroke-width="2" stroke-linejoin="round" marker-start="url(#ltd)" marker-mid="url(#ltd)" marker-end="url(#ltd)"/>
<g clip-path="url(#rclip)">
<polyline points="980.6,546.0 984.1,546.0 987.7,546.0 991.2,546.0 994.8,546.0 998.3,546.0 1001.9,546.0 1005.4,546.0 1009.0,546.0 1012.5,546.0 1016.1,546.0 1019.6,546.0 1023.2,546.0 1026.7,546.0 1030.3,546.0 1033.8,546.0 1037.4,546.0 1040.9,546.0 1044.5,546.0 1048.0,546.0 1051.6,546.0 1055.1,546.0 1058.7,546.0 1062.2,546.0 1065.8,546.0 1069.3,546.0 1072.9,546.0 1076.4,546.0 1080.0,546.0 1083.5,546.0 1087.1,546.0 1090.6,546.0 1094.2,546.0 1097.7,546.0 1101.3,546.0 1104.8,546.0 1108.4,546.0 1111.9,546.0 1115.5,546.0 1119.0,546.0 1122.6,546.0 1126.1,546.0 1129.7,546.2 1133.2,546.4 1136.8,546.8 1140.3,547.3 1143.9,547.9 1147.4,548.7 1151.0,549.7 1154.5,550.8 1158.1,552.2 1161.6,553.8 1165.2,555.6 1168.7,557.4 1172.3,559.4 1175.8,561.3 1179.4,563.1 1182.9,564.6 1186.5,565.8 1190.0,566.5 1193.6,566.8 1197.1,566.8 1200.7,566.6 1204.2,566.1 1207.9,565.3 1211.6,564.3 1215.4,563.4 1219.3,562.3 1223.3,561.2 1227.4,560.1 1231.6,558.8 1235.8,557.4 1240.2,555.9 1244.6,554.3 1249.2,552.7 1253.8,551.0 1258.4,549.2 1263.0,547.3 1267.6,545.4 1272.3,543.4 1276.9,541.4 1281.5,539.3 1286.1,537.1 1290.7,534.9 1295.4,532.7 1300.0,530.4 1304.6,528.1 1309.2,525.7 1313.8,523.3 1318.5,520.8 1323.1,518.3 1327.7,515.8 1332.3,513.3 1336.9,510.7 1341.6,508.1 1346.2,505.5 1350.8,502.9 1355.4,500.2 1360.0,497.6 1364.6,494.9 1369.3,492.1 1373.9,489.4 1378.5,486.6 1383.1,483.7 1387.7,480.6 1392.4,477.4 1397.0,473.9 1401.6,470.1 1406.2,466.0 1410.8,461.6 1415.5,456.8 1420.1,451.5 1424.7,445.9 1429.3,439.7 1433.9,433.0 1438.5,425.7 1443.2,417.7 1447.8,409.2 1452.3,400.4 1456.8,391.5 1461.2,382.1 1465.5,369.6 1469.8,353.6 1474.0,335.9 1478.2,320.4 1482.2,306.1 1486.3,292.3 1490.2,274.5 1494.1,250.1 1498.0,229.4 1501.8,201.7 1505.7,169.0 1509.4,132.9 1513.2,90.0 1516.9,53.8 1520.6,41.4 1524.3,36.3 1528.0,33.6 1531.6,31.9 1535.2,30.8 1538.8,30.0 1542.4,29.4 1545.9,28.8 1549.5,28.3 1553.0,27.8 1556.6,27.5 1560.1,27.2 1563.7,27.0 1567.2,26.9 1570.8,26.8 1574.3,26.7 1577.9,26.7 1581.4,26.6 1585.0,26.6 1588.5,26.5 1592.1,26.5 1595.6,26.5 1599.1,26.5 1602.7,26.5 1606.2,26.5 1609.8,26.5 1613.3,26.5 1616.9,26.5 1620.4,26.5 1624.0,26.5 1627.5,26.5 1631.1,26.5 1634.6,26.5 1638.2,26.5 1641.7,26.5 1645.3,26.5 1648.8,26.5 1652.4,26.5 1655.9,26.5 1659.5,26.5 1663.0,26.5 1666.6,26.5 1670.1,26.5 1673.7,26.5 1677.2,26.5 1680.8,26.5 1684.3,26.5 1687.9,26.5 1691.4,26.5 1695.0,26.5 1698.5,26.5 1702.1,26.5 1705.6,26.5 1709.2,26.5 1709.9,26.5" fill="none" stroke="#666" stroke-width="1" stroke-linejoin="round" marker-start="url(#rsq)" marker-mid="url(#rsq)" marker-end="url(#rsq)"/>
<polyline points="980.6,545.8 984.1,545.8 987.7,545.8 991.2,545.8 994.8,545.8 998.3,545.8 1001.9,545.8 1005.4,545.8 1009.0,545.8 1012.5,545.8 1016.1,545.8 1019.6,545.8 1023.2,545.8 1026.7,545.8 1030.3,545.8 1033.8,545.8 1037.4,545.8 1040.9,545.8 1044.5,545.8 1048.0,545.8 1051.6,545.8 1055.1,545.8 1058.7,545.8 1062.2,545.8 1065.8,545.8 1069.3,545.8 1072.9,545.8 1076.4,545.8 1080.0,545.8 1083.5,545.8 1087.1,545.8 1090.6,545.8 1094.2,545.8 1097.7,545.8 1101.3,545.8 1104.8,545.8 1108.4,545.8 1111.9,545.8 1115.5,545.8 1119.0,545.8 1122.6,545.8 1126.1,545.9 1129.7,546.0 1133.2,546.3 1136.8,546.8 1140.3,547.4 1143.9,548.1 1147.4,548.9 1151.0,549.9 1154.5,551.1 1158.1,552.6 1161.6,554.6 1165.2,556.9 1168.7,559.6 1172.3,562.4 1175.8,565.1 1179.4,567.4 1182.9,569.1 1186.5,570.2 1190.0,570.8 1193.6,571.2 1197.1,571.3 1200.7,571.3 1204.2,571.1 1207.9,570.5 1211.6,569.7 1215.4,568.6 1219.3,567.4 1223.3,566.1 1227.4,564.7 1231.6,563.3 1235.8,561.8 1240.2,560.3 1244.6,558.9 1249.2,557.4 1253.8,555.9 1258.4,554.3 1263.0,552.7 1267.6,551.1 1272.3,549.5 1276.9,547.9 1281.5,546.3 1286.1,544.6 1290.7,542.9 1295.4,541.2 1300.0,539.4 1304.6,537.7 1309.2,535.9 1313.8,534.1 1318.5,532.3 1323.1,530.5 1327.7,528.6 1332.3,526.7 1336.9,524.8 1341.6,522.9 1346.2,520.9 1350.8,518.9 1355.4,516.9 1360.0,514.8 1364.6,512.5 1369.3,510.1 1373.9,507.7 1378.5,505.0 1383.1,502.3 1387.7,499.3 1392.4,496.2 1397.0,492.8 1401.6,489.2 1406.2,485.4 1410.8,481.3 1415.5,476.9 1420.1,472.2 1424.7,467.2 1429.3,461.9 1433.9,456.2 1438.5,450.1 1443.2,443.7 1447.8,436.9 1452.3,429.7 1456.8,422.1 1461.2,413.6 1465.5,404.6 1469.8,395.3 1474.0,381.9 1478.2,368.0 1482.2,353.4 1486.3,338.6 1490.2,319.5 1494.1,298.3 1498.0,274.2 1501.8,247.7 1505.7,215.3 1509.4,177.4 1513.2,144.1 1516.9,102.1 1520.6,65.3 1524.3,41.6 1528.0,34.9 1531.6,32.2 1535.2,30.8 1538.8,30.0 1542.4,29.4 1545.9,28.8 1549.5,28.3 1553.0,27.8 1556.6,27.5 1560.1,27.2 1563.7,27.0 1567.2,26.9 1570.8,26.8 1574.3,26.7 1577.9,26.7 1581.4,26.6 1585.0,26.6 1588.5,26.5 1592.1,26.5 1595.6,26.5 1599.1,26.5 1602.7,26.5 1606.2,26.5 1609.8,26.5 1613.3,26.5 1616.9,26.5 1620.4,26.5 1624.0,26.5 1627.5,26.5 1631.1,26.5 1634.6,26.5 1638.2,26.5 1641.7,26.5 1645.3,26.5 1648.8,26.5 1652.4,26.5 1655.9,26.5 1659.5,26.5 1663.0,26.5 1666.6,26.5 1670.1,26.5 1673.7,26.5 1677.2,26.5 1680.8,26.5 1684.3,26.5 1687.9,26.5 1691.4,26.5 1695.0,26.5 1698.5,26.5 1702.1,26.5 1705.6,26.5 1709.2,26.5 1709.9,26.5" fill="none" stroke="#ff8080" stroke-width="1" stroke-linejoin="round" marker-start="url(#rci)" marker-mid="url(#rci)" marker-end="url(#rci)"/>
<polyline points="980.6,545.8 984.1,545.8 987.7,545.8 991.2,545.8 994.8,545.8 998.3,545.8 1001.9,545.8 1005.4,545.8 1009.0,545.8 1012.5,545.8 1016.1,545.8 1019.6,545.8 1023.2,545.8 1026.7,545.8 1030.3,545.8 1033.8,545.8 1037.4,545.8 1040.9,545.8 1044.5,545.8 1048.0,545.8 1051.6,545.8 1055.1,545.8 1058.7,545.8 1062.2,545.8 1065.8,545.8 1069.3,545.8 1072.9,545.8 1076.4,545.8 1080.0,545.8 1083.5,545.8 1087.1,545.8 1090.6,545.8 1094.2,545.8 1097.7,545.8 1101.3,545.8 1104.8,545.8 1108.4,545.8 1111.9,545.8 1115.5,545.8 1119.0,545.8 1122.6,545.8 1126.1,545.9 1129.7,546.0 1133.2,546.3 1136.8,546.8 1140.3,547.4 1143.9,548.1 1147.4,548.9 1151.0,549.9 1154.5,551.1 1158.1,552.6 1161.6,554.6 1165.2,556.9 1168.7,559.6 1172.3,562.4 1175.8,565.1 1179.4,567.4 1182.9,569.1 1186.5,570.2 1190.0,570.8 1193.6,571.2 1197.1,571.3 1200.7,571.3 1204.2,571.1 1207.9,570.5 1211.6,569.7 1215.4,568.6 1219.3,567.4 1223.3,566.1 1227.4,564.7 1231.6,563.3 1235.8,561.8 1240.2,560.3 1244.6,558.9 1249.2,557.4 1253.8,555.9 1258.4,554.3 1263.0,552.7 1267.6,551.1 1272.3,549.5 1276.9,547.9 1281.5,546.3 1286.1,544.6 1290.7,542.9 1295.4,541.2 1300.0,539.4 1304.6,537.7 1309.2,535.9 1313.8,534.1 1318.5,532.3 1323.1,530.5 1327.7,528.6 1332.3,526.7 1336.9,524.8 1341.6,522.9 1346.2,520.9 1350.8,518.9 1355.4,516.9 1360.0,514.8 1364.6,512.5 1369.3,510.1 1373.9,507.7 1378.5,505.0 1383.1,502.3 1387.7,499.3 1392.4,496.2 1397.0,492.8 1401.6,489.2 1406.2,485.4 1410.8,481.3 1415.5,476.9 1420.1,472.2 1424.7,467.2 1429.3,461.9 1433.9,456.2 1438.5,450.1 1443.2,443.7 1447.8,436.9 1452.3,429.7 1456.8,422.1 1461.2,413.6 1465.5,404.6 1469.8,395.3 1474.0,381.9 1478.2,368.0 1482.2,353.4 1486.3,338.6 1490.2,319.5 1494.1,298.3 1498.0,274.2 1501.8,247.7 1505.7,215.3 1509.4,177.4 1513.2,144.1 1516.9,102.1 1520.6,65.3 1524.3,41.6 1528.0,34.9 1531.6,32.2 1535.2,30.8 1538.8,30.0 1542.4,29.4 1545.9,28.8 1549.5,28.3 1553.0,27.8 1556.6,27.5 1560.1,27.2 1563.7,27.0 1567.2,26.9 1570.8,26.8 1574.3,26.7 1577.9,26.7 1581.4,26.6 1585.0,26.6 1588.5,26.5 1592.1,26.5 1595.6,26.5 1599.1,26.5 1602.7,26.5 1606.2,26.5 1609.8,26.5 1613.3,26.5 1616.9,26.5 1620.4,26.5 1624.0,26.5 1627.5,26.5 1631.1,26.5 1634.6,26.5 1638.2,26.5 1641.7,26.5 1645.3,26.5 1648.8,26.5 1652.4,26.5 1655.9,26.5 1659.5,26.5 1663.0,26.5 1666.6,26.5 1670.1,26.5 1673.7,26.5 1677.2,26.5 1680.8,26.5 1684.3,26.5 1687.9,26.5 1691.4,26.5 1695.0,26.5 1698.5,26.5 1702.1,26.5 1705.6,26.5 1709.2,26.5 1709.9,26.5" fill="none" stroke="#8080e0" stroke-width="1" stroke-linejoin="round" marker-start="url(#rtu)" marker-mid="url(#rtu)" marker-end="url(#rtu)"/>
<polyline points="980.6,545.7 984.1,545.7 987.7,545.7 991.2,545.7 994.8,545.7 998.3,545.7 1001.9,545.7 1005.4,545.7 1009.0,545.7 1012.5,545.7 1016.1,545.7 1019.6,545.7 1023.2,545.7 1026.7,545.7 1030.3,545.7 1033.8,545.7 1037.4,545.7 1040.9,545.7 1044.5,545.7 1048.0,545.7 1051.6,545.7 1055.1,545.7 1058.7,545.7 1062.2,545.7 1065.8,545.7 1069.3,545.7 1072.9,545.7 1076.4,545.7 1080.0,545.7 1083.5,545.7 1087.1,545.7 1090.6,545.7 1094.2,545.7 1097.7,545.7 1101.3,545.7 1104.8,545.7 1108.4,545.7 1111.9,545.7 1115.5,545.7 1119.0,545.7 1122.6,545.7 1126.1,545.7 1129.7,545.8 1133.2,546.1 1136.8,546.5 1140.3,547.0 1143.9,547.6 1147.4,548.2 1151.0,549.0 1154.5,549.9 1158.1,550.9 1161.6,552.1 1165.2,553.6 1168.7,555.1 1172.3,556.5 1175.8,557.8 1179.4,559.0 1182.9,560.2 1186.5,561.1 1190.0,561.8 1193.6,562.0 1197.1,561.8 1200.7,561.3 1204.2,560.5 1207.9,559.5 1211.6,558.4 1215.4,557.4 1219.3,556.3 1223.3,555.2 1227.4,553.9 1231.6,552.6 1235.8,551.1 1240.2,549.5 1244.6,547.7 1249.2,545.8 1253.8,543.8 1258.4,541.6 1263.0,539.4 1267.6,537.0 1272.3,534.6 1276.9,532.2 1281.5,529.8 1286.1,527.3 1290.7,524.8 1295.4,522.3 1300.0,519.8 1304.6,517.4 1309.2,514.9 1313.8,512.4 1318.5,509.9 1323.1,507.4 1327.7,504.8 1332.3,502.2 1336.9,499.5 1341.6,496.8 1346.2,494.0 1350.8,491.2 1355.4,488.4 1360.0,485.6 1364.6,482.7 1369.3,479.7 1373.9,476.7 1378.5,473.5 1383.1,470.2 1387.7,466.7 1392.4,463.1 1397.0,459.3 1401.6,455.3 1406.2,451.1 1410.8,446.6 1415.5,441.9 1420.1,437.0 1424.7,431.7 1429.3,426.1 1433.9,420.2 1438.5,413.9 1443.2,407.1 1447.8,399.9 1452.3,392.1 1456.8,383.3 1461.2,373.7 1465.5,364.0 1469.8,352.3 1474.0,338.0 1478.2,325.2 1482.2,311.8 1486.3,298.5 1490.2,279.8 1494.1,259.6 1498.0,235.6 1501.8,212.8 1505.7,185.4 1509.4,156.8 1513.2,131.8 1516.9,102.1 1520.6,69.0 1524.3,48.1 1528.0,37.6 1531.6,32.7 1535.2,30.6 1538.8,29.4 1542.4,28.6 1545.9,28.0 1549.5,27.4 1553.0,27.0 1556.6,26.7 1560.1,26.4 1563.7,26.2 1567.2,26.1 1570.8,26.0 1574.3,25.9 1577.9,25.9 1581.4,25.8 1585.0,25.8 1588.5,25.7 1592.1,25.7 1595.6,25.7 1599.1,25.7 1602.7,25.7 1606.2,25.7 1609.8,25.7 1613.3,25.7 1616.9,25.7 1620.4,25.7 1624.0,25.7 1627.5,25.7 1631.1,25.7 1634.6,25.7 1638.2,25.7 1641.7,25.7 1645.3,25.7 1648.8,25.7 1652.4,25.7 1655.9,25.7 1659.5,25.7 1663.0,25.7 1666.6,25.7 1670.1,25.7 1673.7,25.7 1677.2,25.7 1680.8,25.7 1684.3,25.7 1687.9,25.7 1691.4,25.7 1695.0,25.7 1698.5,25.7 1702.1,25.7 1705.6,25.7 1709.2,25.7 1709.9,25.7" fill="none" stroke="#60c060" stroke-width="1" stroke-linejoin="round" marker-start="url(#rtd)" marker-mid="url(#rtd)" marker-end="url(#rtd)"/>
</g>
<rect x="82.4" y="8.2" width="732.8" height="594.3" fill="none" stroke="#000" stroke-width="2.6"/>
<line x1="82.4" y1="578.8" x2="88.4" y2="578.8" stroke="#000" stroke-width="2"/>
<line x1="815.2" y1="578.8" x2="809.2" y2="578.8" stroke="#000" stroke-width="2"/>
<line x1="82.4" y1="555.0" x2="88.4" y2="555.0" stroke="#000" stroke-width="2"/>
<line x1="815.2" y1="555.0" x2="809.2" y2="555.0" stroke="#000" stroke-width="2"/>
<line x1="82.4" y1="531.2" x2="88.4" y2="531.2" stroke="#000" stroke-width="2"/>
<line x1="815.2" y1="531.2" x2="809.2" y2="531.2" stroke="#000" stroke-width="2"/>
<line x1="82.4" y1="507.4" x2="93.9" y2="507.4" stroke="#000" stroke-width="2"/>
<line x1="815.2" y1="507.4" x2="803.7" y2="507.4" stroke="#000" stroke-width="2"/>
<line x1="82.4" y1="483.6" x2="88.4" y2="483.6" stroke="#000" stroke-width="2"/>
<line x1="815.2" y1="483.6" x2="809.2" y2="483.6" stroke="#000" stroke-width="2"/>
<line x1="82.4" y1="459.8" x2="88.4" y2="459.8" stroke="#000" stroke-width="2"/>
<line x1="815.2" y1="459.8" x2="809.2" y2="459.8" stroke="#000" stroke-width="2"/>
<line x1="82.4" y1="436.0" x2="88.4" y2="436.0" stroke="#000" stroke-width="2"/>
<line x1="815.2" y1="436.0" x2="809.2" y2="436.0" stroke="#000" stroke-width="2"/>
<line x1="82.4" y1="412.3" x2="93.9" y2="412.3" stroke="#000" stroke-width="2"/>
<line x1="815.2" y1="412.3" x2="803.7" y2="412.3" stroke="#000" stroke-width="2"/>
<line x1="82.4" y1="388.5" x2="88.4" y2="388.5" stroke="#000" stroke-width="2"/>
<line x1="815.2" y1="388.5" x2="809.2" y2="388.5" stroke="#000" stroke-width="2"/>
<line x1="82.4" y1="364.7" x2="88.4" y2="364.7" stroke="#000" stroke-width="2"/>
<line x1="815.2" y1="364.7" x2="809.2" y2="364.7" stroke="#000" stroke-width="2"/>
<line x1="82.4" y1="340.9" x2="88.4" y2="340.9" stroke="#000" stroke-width="2"/>
<line x1="815.2" y1="340.9" x2="809.2" y2="340.9" stroke="#000" stroke-width="2"/>
<line x1="82.4" y1="317.1" x2="93.9" y2="317.1" stroke="#000" stroke-width="2"/>
<line x1="815.2" y1="317.1" x2="803.7" y2="317.1" stroke="#000" stroke-width="2"/>
<line x1="82.4" y1="293.3" x2="88.4" y2="293.3" stroke="#000" stroke-width="2"/>
<line x1="815.2" y1="293.3" x2="809.2" y2="293.3" stroke="#000" stroke-width="2"/>
<line x1="82.4" y1="269.6" x2="88.4" y2="269.6" stroke="#000" stroke-width="2"/>
<line x1="815.2" y1="269.6" x2="809.2" y2="269.6" stroke="#000" stroke-width="2"/>
<line x1="82.4" y1="245.8" x2="88.4" y2="245.8" stroke="#000" stroke-width="2"/>
<line x1="815.2" y1="245.8" x2="809.2" y2="245.8" stroke="#000" stroke-width="2"/>
<line x1="82.4" y1="222.0" x2="93.9" y2="222.0" stroke="#000" stroke-width="2"/>
<line x1="815.2" y1="222.0" x2="803.7" y2="222.0" stroke="#000" stroke-width="2"/>
<line x1="82.4" y1="198.2" x2="88.4" y2="198.2" stroke="#000" stroke-width="2"/>
<line x1="815.2" y1="198.2" x2="809.2" y2="198.2" stroke="#000" stroke-width="2"/>
<line x1="82.4" y1="174.4" x2="88.4" y2="174.4" stroke="#000" stroke-width="2"/>
<line x1="815.2" y1="174.4" x2="809.2" y2="174.4" stroke="#000" stroke-width="2"/>
<line x1="82.4" y1="150.6" x2="88.4" y2="150.6" stroke="#000" stroke-width="2"/>
<line x1="815.2" y1="150.6" x2="809.2" y2="150.6" stroke="#000" stroke-width="2"/>
<line x1="82.4" y1="126.8" x2="93.9" y2="126.8" stroke="#000" stroke-width="2"/>
<line x1="815.2" y1="126.8" x2="803.7" y2="126.8" stroke="#000" stroke-width="2"/>
<line x1="82.4" y1="103.1" x2="88.4" y2="103.1" stroke="#000" stroke-width="2"/>
<line x1="815.2" y1="103.1" x2="809.2" y2="103.1" stroke="#000" stroke-width="2"/>
<line x1="82.4" y1="79.3" x2="88.4" y2="79.3" stroke="#000" stroke-width="2"/>
<line x1="815.2" y1="79.3" x2="809.2" y2="79.3" stroke="#000" stroke-width="2"/>
<line x1="82.4" y1="55.5" x2="88.4" y2="55.5" stroke="#000" stroke-width="2"/>
<line x1="815.2" y1="55.5" x2="809.2" y2="55.5" stroke="#000" stroke-width="2"/>
<line x1="82.4" y1="31.7" x2="93.9" y2="31.7" stroke="#000" stroke-width="2"/>
<line x1="815.2" y1="31.7" x2="803.7" y2="31.7" stroke="#000" stroke-width="2"/>
<text x="69.3" y="608.7" text-anchor="end" font-family="Liberation Sans, Arial, sans-serif" stroke="#000" stroke-width="0.45" font-size="22.6">8</text>
<text x="827.0" y="608.7" font-family="Liberation Sans, Arial, sans-serif" stroke="#000" stroke-width="0.45" font-size="22.6">8</text>
<text x="69.3" y="513.6" text-anchor="end" font-family="Liberation Sans, Arial, sans-serif" stroke="#000" stroke-width="0.45" font-size="22.6">10</text>
<text x="827.0" y="513.6" font-family="Liberation Sans, Arial, sans-serif" stroke="#000" stroke-width="0.45" font-size="22.6">10</text>
<text x="69.3" y="418.5" text-anchor="end" font-family="Liberation Sans, Arial, sans-serif" stroke="#000" stroke-width="0.45" font-size="22.6">12</text>
<text x="827.0" y="418.5" font-family="Liberation Sans, Arial, sans-serif" stroke="#000" stroke-width="0.45" font-size="22.6">12</text>
<text x="69.3" y="323.3" text-anchor="end" font-family="Liberation Sans, Arial, sans-serif" stroke="#000" stroke-width="0.45" font-size="22.6">14</text>
<text x="827.0" y="323.3" font-family="Liberation Sans, Arial, sans-serif" stroke="#000" stroke-width="0.45" font-size="22.6">14</text>
<text x="69.3" y="228.2" text-anchor="end" font-family="Liberation Sans, Arial, sans-serif" stroke="#000" stroke-width="0.45" font-size="22.6">16</text>
<text x="827.0" y="228.2" font-family="Liberation Sans, Arial, sans-serif" stroke="#000" stroke-width="0.45" font-size="22.6">16</text>
<text x="69.3" y="133.0" text-anchor="end" font-family="Liberation Sans, Arial, sans-serif" stroke="#000" stroke-width="0.45" font-size="22.6">18</text>
<text x="827.0" y="133.0" font-family="Liberation Sans, Arial, sans-serif" stroke="#000" stroke-width="0.45" font-size="22.6">18</text>
<text x="69.3" y="37.9" text-anchor="end" font-family="Liberation Sans, Arial, sans-serif" stroke="#000" stroke-width="0.45" font-size="22.6">20</text>
<text x="827.0" y="37.9" font-family="Liberation Sans, Arial, sans-serif" stroke="#000" stroke-width="0.45" font-size="22.6">20</text>
<line x1="134.7" y1="602.5" x2="134.7" y2="591.0" stroke="#000" stroke-width="2"/>
<line x1="187.0" y1="602.5" x2="187.0" y2="596.5" stroke="#000" stroke-width="2"/>
<line x1="239.3" y1="602.5" x2="239.3" y2="591.0" stroke="#000" stroke-width="2"/>
<line x1="291.7" y1="602.5" x2="291.7" y2="596.5" stroke="#000" stroke-width="2"/>
<line x1="344.0" y1="602.5" x2="344.0" y2="591.0" stroke="#000" stroke-width="2"/>
<line x1="396.3" y1="602.5" x2="396.3" y2="596.5" stroke="#000" stroke-width="2"/>
<line x1="448.7" y1="602.5" x2="448.7" y2="591.0" stroke="#000" stroke-width="2"/>
<line x1="501.0" y1="602.5" x2="501.0" y2="596.5" stroke="#000" stroke-width="2"/>
<line x1="553.3" y1="602.5" x2="553.3" y2="591.0" stroke="#000" stroke-width="2"/>
<line x1="605.6" y1="602.5" x2="605.6" y2="596.5" stroke="#000" stroke-width="2"/>
<line x1="658.0" y1="602.5" x2="658.0" y2="591.0" stroke="#000" stroke-width="2"/>
<line x1="710.3" y1="602.5" x2="710.3" y2="596.5" stroke="#000" stroke-width="2"/>
<line x1="762.6" y1="602.5" x2="762.6" y2="591.0" stroke="#000" stroke-width="2"/>
<text x="134.7" y="632.6" text-anchor="middle" font-family="Liberation Sans, Arial, sans-serif" stroke="#000" stroke-width="0.45" font-size="22.6">0.0</text>
<text x="239.3" y="632.6" text-anchor="middle" font-family="Liberation Sans, Arial, sans-serif" stroke="#000" stroke-width="0.45" font-size="22.6">0.5</text>
<text x="344.0" y="632.6" text-anchor="middle" font-family="Liberation Sans, Arial, sans-serif" stroke="#000" stroke-width="0.45" font-size="22.6">1.0</text>
<text x="448.7" y="632.6" text-anchor="middle" font-family="Liberation Sans, Arial, sans-serif" stroke="#000" stroke-width="0.45" font-size="22.6">1.5</text>
<text x="553.3" y="632.6" text-anchor="middle" font-family="Liberation Sans, Arial, sans-serif" stroke="#000" stroke-width="0.45" font-size="22.6">2.0</text>
<text x="658.0" y="632.6" text-anchor="middle" font-family="Liberation Sans, Arial, sans-serif" stroke="#000" stroke-width="0.45" font-size="22.6">2.5</text>
<text x="762.6" y="632.6" text-anchor="middle" font-family="Liberation Sans, Arial, sans-serif" stroke="#000" stroke-width="0.45" font-size="22.6">3.0</text>
<rect x="980.6" y="5.8" width="729.6" height="596.4" fill="none" stroke="#000" stroke-width="2.6"/>
<line x1="980.6" y1="18.4" x2="992.1" y2="18.4" stroke="#000" stroke-width="2"/>
<line x1="1710.2" y1="18.4" x2="1698.7" y2="18.4" stroke="#000" stroke-width="2"/>
<line x1="980.6" y1="50.8" x2="986.6" y2="50.8" stroke="#000" stroke-width="2"/>
<line x1="1710.2" y1="50.8" x2="1704.2" y2="50.8" stroke="#000" stroke-width="2"/>
<line x1="980.6" y1="83.2" x2="986.6" y2="83.2" stroke="#000" stroke-width="2"/>
<line x1="1710.2" y1="83.2" x2="1704.2" y2="83.2" stroke="#000" stroke-width="2"/>
<line x1="980.6" y1="115.7" x2="986.6" y2="115.7" stroke="#000" stroke-width="2"/>
<line x1="1710.2" y1="115.7" x2="1704.2" y2="115.7" stroke="#000" stroke-width="2"/>
<line x1="980.6" y1="148.1" x2="992.1" y2="148.1" stroke="#000" stroke-width="2"/>
<line x1="1710.2" y1="148.1" x2="1698.7" y2="148.1" stroke="#000" stroke-width="2"/>
<line x1="980.6" y1="180.5" x2="986.6" y2="180.5" stroke="#000" stroke-width="2"/>
<line x1="1710.2" y1="180.5" x2="1704.2" y2="180.5" stroke="#000" stroke-width="2"/>
<line x1="980.6" y1="212.9" x2="986.6" y2="212.9" stroke="#000" stroke-width="2"/>
<line x1="1710.2" y1="212.9" x2="1704.2" y2="212.9" stroke="#000" stroke-width="2"/>
<line x1="980.6" y1="245.4" x2="986.6" y2="245.4" stroke="#000" stroke-width="2"/>
<line x1="1710.2" y1="245.4" x2="1704.2" y2="245.4" stroke="#000" stroke-width="2"/>
<line x1="980.6" y1="277.8" x2="992.1" y2="277.8" stroke="#000" stroke-width="2"/>
<line x1="1710.2" y1="277.8" x2="1698.7" y2="277.8" stroke="#000" stroke-width="2"/>
<line x1="980.6" y1="310.2" x2="986.6" y2="310.2" stroke="#000" stroke-width="2"/>
<line x1="1710.2" y1="310.2" x2="1704.2" y2="310.2" stroke="#000" stroke-width="2"/>
<line x1="980.6" y1="342.6" x2="986.6" y2="342.6" stroke="#000" stroke-width="2"/>
<line x1="1710.2" y1="342.6" x2="1704.2" y2="342.6" stroke="#000" stroke-width="2"/>
<line x1="980.6" y1="375.1" x2="986.6" y2="375.1" stroke="#000" stroke-width="2"/>
<line x1="1710.2" y1="375.1" x2="1704.2" y2="375.1" stroke="#000" stroke-width="2"/>
<line x1="980.6" y1="407.5" x2="992.1" y2="407.5" stroke="#000" stroke-width="2"/>
<line x1="1710.2" y1="407.5" x2="1698.7" y2="407.5" stroke="#000" stroke-width="2"/>
<line x1="980.6" y1="439.9" x2="986.6" y2="439.9" stroke="#000" stroke-width="2"/>
<line x1="1710.2" y1="439.9" x2="1704.2" y2="439.9" stroke="#000" stroke-width="2"/>
<line x1="980.6" y1="472.3" x2="986.6" y2="472.3" stroke="#000" stroke-width="2"/>
<line x1="1710.2" y1="472.3" x2="1704.2" y2="472.3" stroke="#000" stroke-width="2"/>
<line x1="980.6" y1="504.8" x2="986.6" y2="504.8" stroke="#000" stroke-width="2"/>
<line x1="1710.2" y1="504.8" x2="1704.2" y2="504.8" stroke="#000" stroke-width="2"/>
<line x1="980.6" y1="537.2" x2="992.1" y2="537.2" stroke="#000" stroke-width="2"/>
<line x1="1710.2" y1="537.2" x2="1698.7" y2="537.2" stroke="#000" stroke-width="2"/>
<line x1="980.6" y1="569.6" x2="986.6" y2="569.6" stroke="#000" stroke-width="2"/>
<line x1="1710.2" y1="569.6" x2="1704.2" y2="569.6" stroke="#000" stroke-width="2"/>
<text x="968.3" y="25.3" text-anchor="end" font-family="Liberation Sans, Arial, sans-serif" stroke="#000" stroke-width="0.45" font-size="22.6">0</text>
<text x="1722.0" y="25.3" font-family="Liberation Sans, Arial, sans-serif" stroke="#000" stroke-width="0.45" font-size="22.6">0</text>
<text x="968.3" y="155.0" text-anchor="end" font-family="Liberation Sans, Arial, sans-serif" stroke="#000" stroke-width="0.45" font-size="22.6">−1</text>
<text x="1722.0" y="155.0" font-family="Liberation Sans, Arial, sans-serif" stroke="#000" stroke-width="0.45" font-size="22.6">−1</text>
<text x="968.3" y="284.7" text-anchor="end" font-family="Liberation Sans, Arial, sans-serif" stroke="#000" stroke-width="0.45" font-size="22.6">−2</text>
<text x="1722.0" y="284.7" font-family="Liberation Sans, Arial, sans-serif" stroke="#000" stroke-width="0.45" font-size="22.6">−2</text>
<text x="968.3" y="414.4" text-anchor="end" font-family="Liberation Sans, Arial, sans-serif" stroke="#000" stroke-width="0.45" font-size="22.6">−3</text>
<text x="1722.0" y="414.4" font-family="Liberation Sans, Arial, sans-serif" stroke="#000" stroke-width="0.45" font-size="22.6">−3</text>
<text x="968.3" y="544.1" text-anchor="end" font-family="Liberation Sans, Arial, sans-serif" stroke="#000" stroke-width="0.45" font-size="22.6">−4</text>
<text x="1722.0" y="544.1" font-family="Liberation Sans, Arial, sans-serif" stroke="#000" stroke-width="0.45" font-size="22.6">−4</text>
<line x1="1041.4" y1="602.2" x2="1041.4" y2="596.2" stroke="#000" stroke-width="2"/>
<line x1="1102.2" y1="602.2" x2="1102.2" y2="590.7" stroke="#000" stroke-width="2"/>
<line x1="1162.9" y1="602.2" x2="1162.9" y2="596.2" stroke="#000" stroke-width="2"/>
<line x1="1223.7" y1="602.2" x2="1223.7" y2="590.7" stroke="#000" stroke-width="2"/>
<line x1="1284.5" y1="602.2" x2="1284.5" y2="596.2" stroke="#000" stroke-width="2"/>
<line x1="1345.2" y1="602.2" x2="1345.2" y2="590.7" stroke="#000" stroke-width="2"/>
<line x1="1406.0" y1="602.2" x2="1406.0" y2="596.2" stroke="#000" stroke-width="2"/>
<line x1="1466.8" y1="602.2" x2="1466.8" y2="590.7" stroke="#000" stroke-width="2"/>
<line x1="1527.6" y1="602.2" x2="1527.6" y2="596.2" stroke="#000" stroke-width="2"/>
<line x1="1588.3" y1="602.2" x2="1588.3" y2="590.7" stroke="#000" stroke-width="2"/>
<line x1="1649.1" y1="602.2" x2="1649.1" y2="596.2" stroke="#000" stroke-width="2"/>
<text x="980.6" y="632.9" text-anchor="middle" font-family="Liberation Sans, Arial, sans-serif" stroke="#000" stroke-width="0.45" font-size="22.6">0.0</text>
<text x="1102.2" y="632.9" text-anchor="middle" font-family="Liberation Sans, Arial, sans-serif" stroke="#000" stroke-width="0.45" font-size="22.6">0.5</text>
<text x="1223.7" y="632.9" text-anchor="middle" font-family="Liberation Sans, Arial, sans-serif" stroke="#000" stroke-width="0.45" font-size="22.6">1.0</text>
<text x="1345.2" y="632.9" text-anchor="middle" font-family="Liberation Sans, Arial, sans-serif" stroke="#000" stroke-width="0.45" font-size="22.6">1.5</text>
<text x="1466.8" y="632.9" text-anchor="middle" font-family="Liberation Sans, Arial, sans-serif" stroke="#000" stroke-width="0.45" font-size="22.6">2.0</text>
<text x="1588.3" y="632.9" text-anchor="middle" font-family="Liberation Sans, Arial, sans-serif" stroke="#000" stroke-width="0.45" font-size="22.6">2.5</text>
<text x="1709.9" y="632.9" text-anchor="middle" font-family="Liberation Sans, Arial, sans-serif" stroke="#000" stroke-width="0.45" font-size="22.6">3.0</text>
<text x="448.9" y="678.2" text-anchor="middle" font-family="Liberation Sans, Arial, sans-serif" stroke="#000" stroke-width="0.45" font-size="31">position(μm)</text>
<text x="1345.3" y="677.8" text-anchor="middle" font-family="Liberation Sans, Arial, sans-serif" stroke="#000" stroke-width="0.45" font-size="31">position (μm)</text>
<text transform="translate(31.5,304.3) rotate(-90)" text-anchor="middle" font-family="Liberation Sans, Arial, sans-serif" stroke="#000" stroke-width="0.45" font-size="31">Log electron concentration(1/m<tspan font-size="22" dy="-11.5">3</tspan><tspan dy="11.5">)</tspan></text>
<text transform="translate(929.7,303.5) rotate(-90)" text-anchor="middle" font-family="Liberation Sans, Arial, sans-serif" stroke="#000" stroke-width="0.45" font-size="31">Electric potential (V)</text>
<text x="433.3" y="750.6" text-anchor="middle" font-family="Liberation Serif, Times New Roman, serif" font-weight="bold" font-size="40.5" stroke="#000" stroke-width="0.4">(a)</text>
<text x="1326.5" y="750.6" text-anchor="middle" font-family="Liberation Serif, Times New Roman, serif" font-weight="bold" font-size="40.5" stroke="#000" stroke-width="0.4">(b)</text>
<rect x="89.5" y="438.2" width="275.5" height="156.4" fill="none" stroke="#888" stroke-width="1.2"/>
<polyline points="92.5,460.0 127.4,460.0 162.5,460.0" fill="none" stroke="#000" stroke-width="2" marker-mid="url(#lsq)"/>
<text x="162.3" y="470.8" font-family="Liberation Sans, Arial, sans-serif" stroke="#000" stroke-width="0.45" font-size="22">const mobility</text>
<polyline points="92.5,498.4 127.4,498.4 162.5,498.4" fill="none" stroke="#5a9e00" stroke-width="2" marker-mid="url(#lci)"/>
<text x="162.3" y="509.2" font-family="Liberation Sans, Arial, sans-serif" stroke="#000" stroke-width="0.45" font-size="22">2 combined<tspan dx="2.5"> models</tspan></text>
<polyline points="92.5,536.5 127.4,536.5 162.5,536.5" fill="none" stroke="#ff0000" stroke-width="2.4" marker-mid="url(#lgtu)"/>
<text x="162.3" y="547.3" font-family="Liberation Sans, Arial, sans-serif" stroke="#000" stroke-width="0.45" font-size="22">3 combined models</text>
<polyline points="92.5,574.6 127.4,574.6 162.5,574.6" fill="none" stroke="#1468b0" stroke-width="2" marker-mid="url(#lgtd)"/>
<text x="162.3" y="585.4" font-family="Liberation Sans, Arial, sans-serif" stroke="#000" stroke-width="0.45" font-size="22">4 combined models</text>
<rect x="993.7" y="347" width="271.8" height="157.6" fill="none" stroke="#888" stroke-width="1.2"/>
<polyline points="997.6,368.7 1031.3,368.7 1065.7,368.7" fill="none" stroke="#aaa" stroke-width="1.5" marker-mid="url(#lgrsq)"/>
<text x="1066" y="378.9" font-family="Liberation Sans, Arial, sans-serif" stroke="#000" stroke-width="0.45" font-size="22">2 combined models</text>
<polyline points="997.6,406.6 1031.3,406.6 1065.7,406.6" fill="none" stroke="#f9a0a0" stroke-width="1.5" marker-mid="url(#rci)"/>
<text x="1066" y="416.8" font-family="Liberation Sans, Arial, sans-serif" stroke="#000" stroke-width="0.45" font-size="22">3 combined models</text>
<polyline points="997.6,444.8 1031.3,444.8 1065.7,444.8" fill="none" stroke="#a8aef0" stroke-width="1.5" marker-mid="url(#rtu)"/>
<text x="1066" y="455.0" font-family="Liberation Sans, Arial, sans-serif" stroke="#000" stroke-width="0.45" font-size="22">4 combined models</text>
<polyline points="997.6,482.7 1031.3,482.7 1065.7,482.7" fill="none" stroke="#a0d8a0" stroke-width="1.5" marker-mid="url(#lgrtd)"/>
<text x="1072.3" y="492.9" font-family="Liberation Sans, Arial, sans-serif" stroke="#000" stroke-width="0.45" font-size="22">constant mobility</text>
</svg>
</body></html>
